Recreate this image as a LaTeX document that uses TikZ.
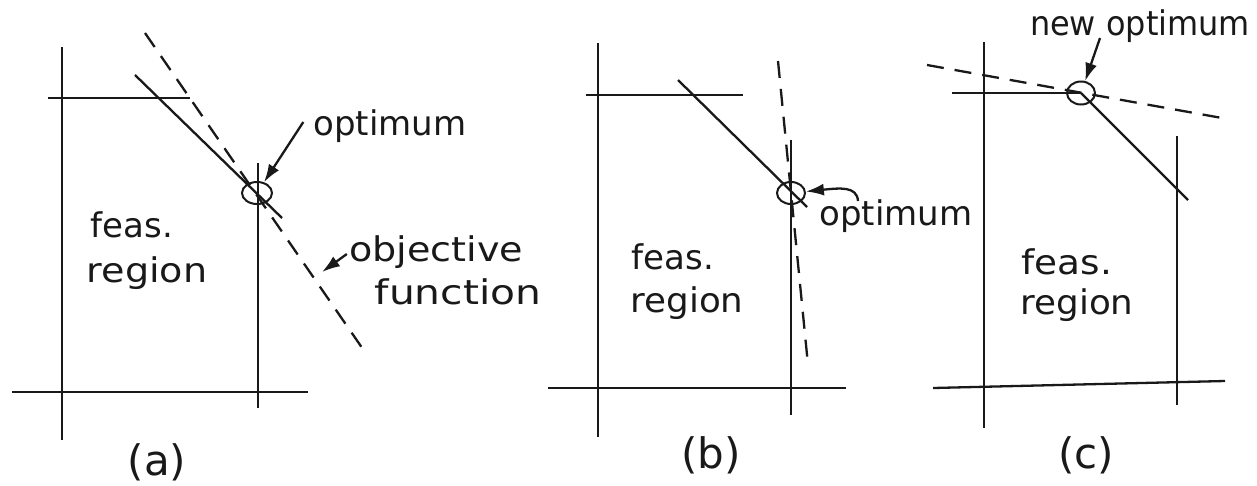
\documentclass[tikz,border=0pt]{standalone}
\usepackage{fontspec}
\setmainfont{DejaVu Sans}
\usetikzlibrary{shapes.geometric,arrows.meta}
\newcommand{\hwide}[2]{\scalebox{#1}[1]{#2}}
\begin{document}
\begin{tikzpicture}[x=1pt,y=-1pt,
  ln/.style={line width=2.3pt,draw=black!90},
  dsh/.style={line width=2.3pt,draw=black!90,dash pattern=on 17pt off 11pt},
  opt/.style={ellipse,draw=black!90,line width=2pt,minimum width=28pt,minimum height=22pt,inner sep=0pt},
  lbl/.style={font=\fontsize{34}{36}\selectfont,inner sep=0pt,text=black!90},
  caplbl/.style={font=\fontsize{42}{44}\selectfont,inner sep=0pt,text=black!90},
  arr/.style={line width=2.3pt,draw=black!90,-{Latex[length=18pt,width=12pt]}}]
\useasboundingbox (0,0) rectangle (1257,485);
% ---------- (a)
\draw[ln] (62,47) -- (62,440);
\draw[ln] (12,392) -- (308,392);
\draw[ln] (258,163) -- (258,408);
\draw[ln] (48,98) -- (190,98);
\draw[ln] (135,75) -- (282,218);
\draw[dsh] (145,33) -- (367,355);
\node[opt,minimum width=30pt] (ca) at (257,193) {};
\node[lbl] (opta) at (390,126) {optimum};
\draw[arr] ([xshift=-10pt,yshift=4pt]opta.west) -- (ca);
\node[lbl] (obja) at (436,252) {\hwide{1.12}{objective}};
\node[lbl] (funa) at (458,292) {\hwide{1.2}{function}};
\coordinate (objpt) at (322,272);
\draw[arr] ([xshift=-2pt,yshift=-2pt]obja.west) -- (objpt);
\node[lbl] (feasa) at (132,225) {feas.};
\node[lbl] (rega) at (147,273) {\hwide{1.12}{region}};
\node[caplbl] (capa) at (157,462) {(a)};
% ---------- (b)
\draw[ln] (598,43) -- (598,437);
\draw[ln] (548,388) -- (846,388);
\draw[ln] (791,140) -- (791,415);
\draw[ln] (586,95) -- (743,95);
\draw[ln] (678,80) -- (807,207);
\draw[dsh] (778,61) -- (808,365);
\node[opt] (cb) at (791,193) {};
\node[lbl] (optb) at (896,216) {optimum};
\coordinate (tb) at (858,201);
\draw[arr] (tb) .. controls (857,186) and (840,188) .. (cb);
\node[lbl] (feasb) at (673,257) {feas.};
\node[lbl] (regb) at (687,303) {\hwide{1.05}{region}};
\node[caplbl] (capb) at (711,455) {(b)};
% ---------- (c)
\draw[ln] (984,42) -- (984,428);
\draw[ln] (933,388) -- (1225,381);
\draw[ln] (1177,136) -- (1177,405);
\draw[ln] (952,93) -- (1081,93);
\draw[ln] (1081,93) -- (1188,200);
\draw[dsh] (927,65) -- (1222,118);
\node[opt,minimum height=23pt] (cc) at (1081,93) {};
\node[lbl] (optc) at (1140,26) {\hwide{0.94}{new optimum}};
\coordinate (tc) at (1100,38);
\draw[arr] (tc) -- (cc);
\node[lbl] (feasc) at (1067,262) {\hwide{1.1}{feas.}};
\node[lbl] (regc) at (1077,305) {\hwide{1.05}{region}};
\node[caplbl] (capc) at (1086,455) {(c)};
\end{tikzpicture}
\end{document}
